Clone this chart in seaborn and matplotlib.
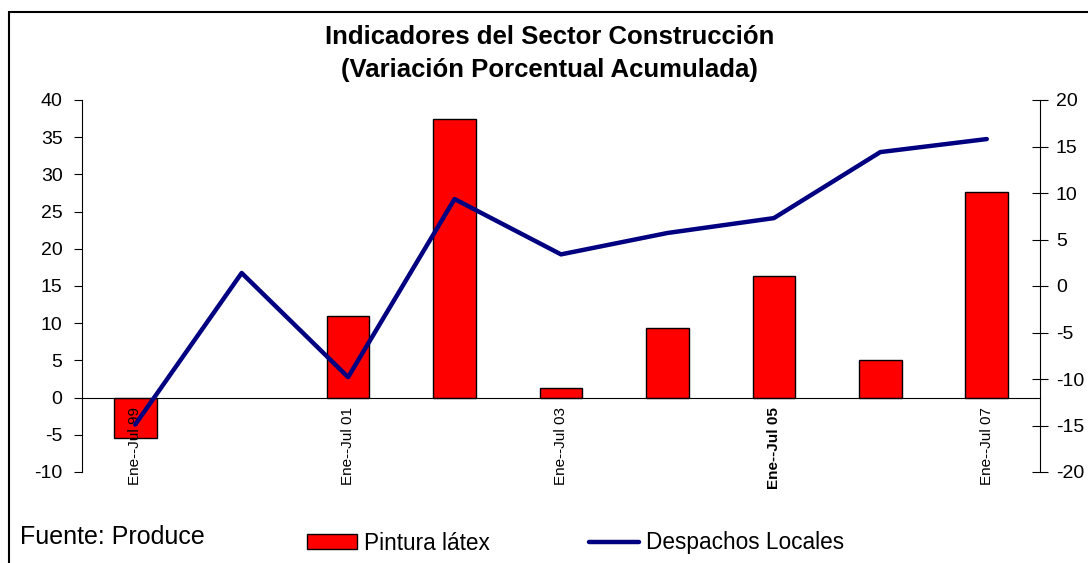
import numpy as np
import pandas as pd
import seaborn as sns
import matplotlib.pyplot as plt
from matplotlib.patches import Rectangle

categorias = ["Ene--Jul 99", "Ene--Jul 00", "Ene--Jul 01", "Ene--Jul 02", "Ene--Jul 03",
              "Ene--Jul 04", "Ene--Jul 05", "Ene--Jul 06", "Ene--Jul 07"]
etiquetas = ["Ene--Jul 99", "", "Ene--Jul 01", "", "Ene--Jul 03", "", "Ene--Jul 05", "", "Ene--Jul 07"]
pintura_latex = [-5.4, np.nan, 11.0, 37.5, 1.3, 9.4, 16.3, 5.0, 27.6]
despachos_locales = [-14.9, 1.4, -9.8, 9.35, 3.4, 5.7, 7.3, 14.4, 15.8]

sns.set_style("white")
plt.rcParams["font.family"] = ["Liberation Sans", "DejaVu Sans"]
plt.rcParams["axes.unicode_minus"] = False
plt.rcParams["text.color"] = "black"
plt.rcParams["xtick.color"] = "black"
plt.rcParams["ytick.color"] = "black"

df = pd.DataFrame({"cat": categorias, "pintura": pintura_latex, "despachos": despachos_locales})
df["pos"] = np.arange(len(df))

fig = plt.figure(figsize=(10.88, 5.63), dpi=100)
ax = fig.add_axes([82 / 1088, 1 - 472 / 563, (1040 - 82) / 1088, (472 - 100) / 563])
ax2 = ax.twinx()

sns.barplot(data=df, x="cat", y="pintura", color="#ff0000", saturation=1, width=0.4,
            edgecolor="black", linewidth=1, ax=ax, label="Pintura látex")
sns.lineplot(data=df, x="pos", y="despachos", color="#000080", linewidth=3.2, ax=ax2,
             label="Despachos Locales")
for a in (ax, ax2):
    if a.get_legend() is not None:
        a.get_legend().remove()

n = len(categorias)
ax.set_axisbelow(False)
ax.set_xlim(-0.5, n - 0.5)
ax2.set_xlim(-0.5, n - 0.5)
ax.set_ylim(-10, 40)
ax.set_yticks(np.arange(-10, 41, 5))
ax2.set_ylim(-20, 20)
ax2.set_yticks(np.arange(-20, 21, 5))
ax.set_xlabel("")
ax.set_ylabel("")
ax2.set_xlabel("")
ax2.set_ylabel("")

# x axis on the zero line, ticks between categories, labels under each category
ax.spines["bottom"].set_position(("data", 0))
ax.set_xticks(np.arange(-0.5, n, 1.0))
ax.set_xticklabels([])
ax.set_xticks(np.arange(n), minor=True)
ax.set_xticklabels(etiquetas, minor=True, rotation=90, va="top", fontsize=11)
ax.tick_params(axis="x", which="major", direction="out", length=6, width=0.8, color="black")
ax.tick_params(axis="x", which="minor", length=0, pad=7)
for lbl in ax.get_xticklabels(minor=True):
    if lbl.get_text() == "Ene--Jul 05":
        lbl.set_fontweight("bold")

ax.tick_params(axis="y", direction="out", length=6, width=0.8, color="black", labelsize=14, pad=8)
ax2.tick_params(axis="y", direction="inout", length=11, width=0.8, color="black", labelsize=14, pad=6)

for s in ["top", "right"]:
    ax.spines[s].set_visible(False)
for s in ["top", "left", "bottom"]:
    ax2.spines[s].set_visible(False)
for s in ["left", "bottom"]:
    ax.spines[s].set_color("black")
    ax.spines[s].set_linewidth(0.8)
ax2.spines["right"].set_color("black")
ax2.spines["right"].set_linewidth(0.8)

fig.text(0.505, 1 - 25 / 563, "Indicadores del Sector Construcción\n(Variación Porcentual Acumulada)",
         ha="center", va="top", fontsize=18.5, fontweight="bold", linespacing=1.45)

fig.text(20 / 1088, 1 - 537 / 563, "Fuente: Produce", ha="left", va="center", fontsize=18)

h1, l1 = ax.get_legend_handles_labels()
h2, l2 = ax2.get_legend_handles_labels()
fig.legend(h1 + h2, l1 + l2, loc="center left", bbox_to_anchor=(298 / 1088, 1 - 543 / 563),
           ncol=2, frameon=False, fontsize=16.3, handlelength=2.2, handleheight=0.6,
           handletextpad=0.3, columnspacing=4.4, borderaxespad=0)

fig.patches.append(Rectangle((9 / 1088, -0.05), 1.0, 1.05 - 12 / 563, transform=fig.transFigure,
                             fill=False, edgecolor="black", linewidth=1.5, zorder=0))

fig.savefig("out.png", dpi=100)
